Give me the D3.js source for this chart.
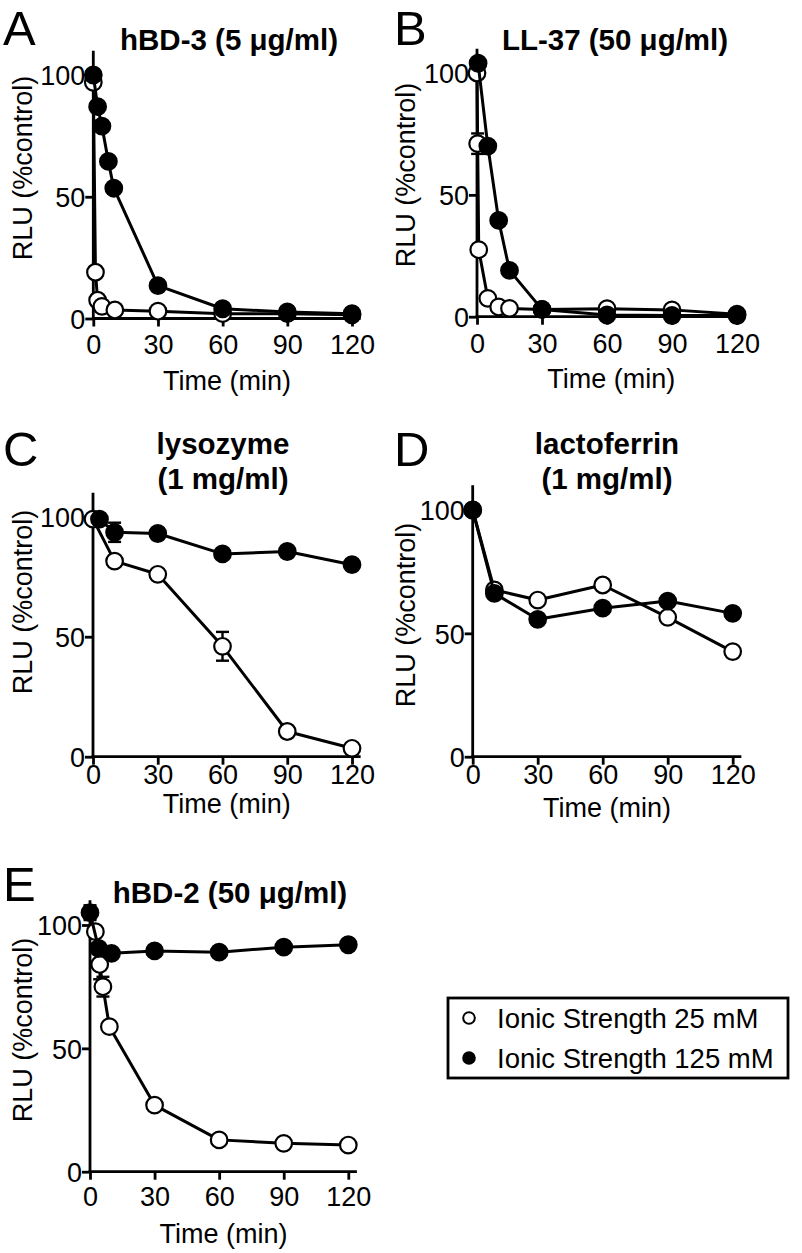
<!DOCTYPE html>
<html><head><meta charset="utf-8">
<script src="https://cdn.jsdelivr.net/npm/d3@7"></script>
<style>
html,body{margin:0;padding:0;background:#fff;}
svg{display:block;}
text{font-family:"Liberation Sans",Arial,Helvetica,sans-serif;fill:#000;}
</style></head>
<body>
<svg id="chart" width="802" height="1253"></svg>
<script>
// ---------- DATA ----------
const xTicks = [0, 30, 60, 90, 120];
const yTicks = [0, 50, 100];
const seriesNames = ["Ionic Strength 25 mM", "Ionic Strength 125 mM"];
const panelLetters = ["A", "B", "C", "D", "E"];
const panelTitles = [["hBD-3 (5 μg/ml)"], ["LL-37 (50 μg/ml)"], ["lysozyme", "(1 mg/ml)"], ["lactoferrin", "(1 mg/ml)"], ["hBD-2 (50 μg/ml)"]];

// A: hBD-3
const aLowTime  = [0, 1, 2, 4, 10, 30, 60, 90, 120];
const aLowRLU   = [97, 19, 7.5, 5, 3.5, 3, 2, 2, 1.5];
const aLowErr   = [0, 0, 0, 0, 0, 0, 0, 0, 0];
const aHighTime = [0, 2, 4, 7, 9.5, 30, 60, 90, 120];
const aHighRLU  = [100, 87, 79, 64.5, 53.5, 13.5, 4, 2.7, 2];
const aHighErr  = [0, 0, 0, 0, 0, 0, 0, 0, 0];
// B: LL-37
const bLowTime  = [0, 0.3, 0.8, 5, 10, 15, 30, 60, 90, 120];
const bLowRLU   = [100, 71, 27.5, 7.5, 4, 3.4, 3, 3.3, 2.8, 1];
const bLowErr   = [0, 4.2, 0, 0, 0, 0, 0, 0, 0, 0];
const bHighTime = [0.5, 5, 10, 15, 30, 60, 90, 120];
const bHighRLU  = [104, 70, 39.5, 19, 3, 0.7, 0.5, 0.5];
const bHighErr  = [0, 0, 0, 0, 0, 0, 0, 0];
// C: lysozyme
const cLowTime  = [0, 10, 30, 60, 90, 120];
const cLowRLU   = [99, 81.5, 76, 46, 10.5, 3.5];
const cLowErr   = [2, 0, 0, 6, 0, 0];
const cHighTime = [3, 10, 30, 60, 90, 120];
const cHighRLU  = [99, 93.5, 93, 84.5, 85.5, 80];
const cHighErr  = [0, 4, 0, 0, 0, 0];
// D: lactoferrin
const dLowTime  = [0, 10, 30, 60, 90, 120];
const dLowRLU   = [100, 67.6, 63.5, 69.6, 56.5, 42.6];
const dLowErr   = [0, 0, 0, 0, 0, 0];
const dHighTime = [0, 10, 30, 60, 90, 120];
const dHighRLU  = [100, 66.2, 55.7, 60.2, 63.1, 58.1];
const dHighErr  = [0, 0, 0, 0, 0, 0];
// E: hBD-2
const eLowTime  = [2.5, 4.5, 6, 9, 30, 60, 90, 120];
const eLowRLU   = [97.3, 84, 75, 58.8, 27, 12.9, 11.5, 10.8];
const eLowErr   = [0, 6, 4, 0, 0, 0, 0, 0];
const eHighTime = [0, 4, 10, 30, 60, 90, 120];
const eHighRLU  = [105, 90.5, 88.5, 89.5, 89, 91, 92];
const eHighErr  = [3, 0, 0, 0, 0, 0, 0];

const panelData = [
  [[aLowTime, aLowRLU, aLowErr], [aHighTime, aHighRLU, aHighErr]],
  [[bLowTime, bLowRLU, bLowErr], [bHighTime, bHighRLU, bHighErr]],
  [[cLowTime, cLowRLU, cLowErr], [cHighTime, cHighRLU, cHighErr]],
  [[dLowTime, dLowRLU, dLowErr], [dHighTime, dHighRLU, dHighErr]],
  [[eLowTime, eLowRLU, eLowErr], [eHighTime, eHighRLU, eHighErr]]
];

// ---------- LAYOUT ----------
const layout = [
  {x0: 93.3, x120: 352, y0: 318.5, y100: 75,  letter:[3, 45],  title:[229, 50], titleDy:0, tickBase:354, timeBase:390, ylab:[32, 168]},
  {x0: 477, x120: 737, y0: 316.7, y100: 73,  letter:[394, 45], title:[615, 50], titleDy:0, tickBase:353, timeBase:388, ylab:[415, 175]},
  {x0: 93, x120: 352, y0: 756.7, y100: 516.7, letter:[3, 466], title:[223, 454], titleDy:35, tickBase:784, timeBase:813, ylab:[32, 602]},
  {x0: 472.7, x120: 732.7, y0: 756.7, y100: 510, letter:[394, 466], title:[607, 454], titleDy:35, tickBase:784, timeBase:817, ylab:[415, 615]},
  {x0: 90, x120: 348.3, y0: 1171.7, y100: 925, letter:[3, 901], title:[230, 903], titleDy:0, tickBase:1206, timeBase:1243, ylab:[32, 1030]}
];

const svg = d3.select("#chart");
const R = 8.3;

layout.forEach((L, i) => {
  const g = svg.append("g");
  const k = (L.x120 - L.x0) / 120;
  const ky = (L.y0 - L.y100) / 100;
  const x = d3.scaleLinear().domain([0, 124]).range([L.x0, L.x0 + 124 * k]);
  const y = d3.scaleLinear().domain([0, 110]).range([L.y0, L.y0 - 110 * ky]);

  // axes
  const xa = g.append("g").attr("transform", `translate(0,${L.y0})`)
    .call(d3.axisBottom(x).tickValues(xTicks).tickSizeInner(8).tickSizeOuter(0).tickFormat(d3.format("d")));
  const ya = g.append("g").attr("transform", `translate(${L.x0},0)`)
    .call(d3.axisLeft(y).tickValues(yTicks).tickSizeInner(8).tickSizeOuter(0).tickFormat(d3.format("d")));
  [xa, ya].forEach(a => {
    a.select(".domain").attr("stroke", "#000").attr("stroke-width", 2.8);
    a.selectAll(".tick line").attr("stroke", "#000").attr("stroke-width", 2.8);
    a.selectAll(".tick text").attr("font-size", 27).attr("font-family", "Liberation Sans, Arial, sans-serif").attr("fill", "#000");
  });
  xa.select(".domain").attr("d", `M${L.x0 - 1.4},0H${x(124)}`);
  ya.select(".domain").attr("d", `M0,${y(0) + 1.4}V${y(110)}`);
  xa.selectAll(".tick text").attr("y", L.tickBase - L.y0).attr("dy", null);
  ya.selectAll(".tick text").attr("x", -8).attr("dy", "0.36em");

  // axis titles
  g.append("text").attr("x", x(62)).attr("y", L.timeBase).attr("text-anchor", "middle")
    .attr("font-size", 27).text("Time (min)");
  g.append("text").attr("transform", `translate(${L.ylab[0]},${L.ylab[1]}) rotate(-90)`)
    .attr("text-anchor", "middle").attr("font-size", 27).text("RLU (%control)");

  // panel letter and title
  g.append("text").attr("x", L.letter[0]).attr("y", L.letter[1]).attr("font-size", 49).text(panelLetters[i]);
  panelTitles[i].forEach((t, j) => {
    g.append("text").attr("x", L.title[0]).attr("y", L.title[1] + j * L.titleDy)
      .attr("text-anchor", "middle").attr("font-size", 29.5).attr("font-weight", "bold").text(t);
  });

  // series: open (25 mM) first, filled (125 mM) on top
  panelData[i].forEach((s, si) => {
    const pts = s[0].map((t, j) => ({t: t, v: s[1][j], e: s[2][j]}));
    const line = d3.line().x(d => x(d.t)).y(d => y(d.v));
    g.append("path").datum(pts).attr("d", line).attr("fill", "none")
      .attr("stroke", "#000").attr("stroke-width", 3).attr("stroke-linejoin", "round");
    pts.filter(d => d.e > 0).forEach(d => {
      const eg = g.append("g").attr("stroke", "#000").attr("stroke-width", 2.4);
      eg.append("line").attr("x1", x(d.t)).attr("x2", x(d.t)).attr("y1", y(d.v - d.e)).attr("y2", y(d.v + d.e));
      [d.v - d.e, d.v + d.e].forEach(v => eg.append("line")
        .attr("x1", x(d.t) - 6.5).attr("x2", x(d.t) + 6.5).attr("y1", y(v)).attr("y2", y(v)));
    });
    g.selectAll(null).data(pts).enter().append("circle")
      .attr("cx", d => x(d.t)).attr("cy", d => y(d.v)).attr("r", R)
      .attr("fill", si === 0 ? "#fff" : "#000").attr("stroke", "#000").attr("stroke-width", 2.2);
  });
});

// legend
const lg = svg.append("g");
lg.append("rect").attr("x", 448).attr("y", 998).attr("width", 340).attr("height", 80)
  .attr("fill", "#fff").attr("stroke", "#000").attr("stroke-width", 2.8);
seriesNames.forEach((n, i) => {
  const cy = 1018 + i * 40;
  lg.append("circle").attr("cx", 469).attr("cy", cy).attr("r", 5.8)
    .attr("fill", i === 0 ? "#fff" : "#000").attr("stroke", "#000").attr("stroke-width", 2);
  lg.append("text").attr("x", 497).attr("y", cy + 9.5).attr("font-size", 27.5).text(n);
});
</script>
</body></html>
